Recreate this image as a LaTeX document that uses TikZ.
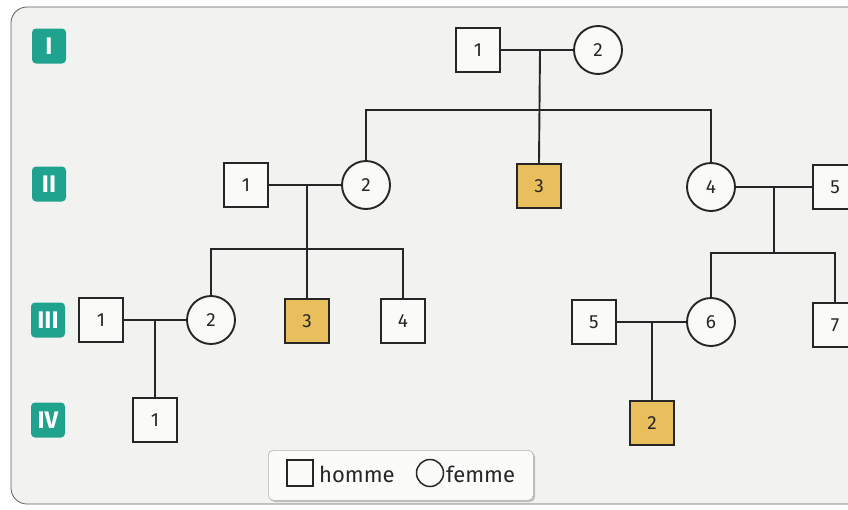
\documentclass[tikz,border=0pt]{standalone}
\usepackage{fontspec}
\setmainfont{Fira Sans}
\definecolor{genteal}{RGB}{32,163,142}
\definecolor{affyellow}{RGB}{233,190,92}
\definecolor{panelbg}{RGB}{242,242,240}
\definecolor{panelline}{RGB}{95,95,95}
\begin{document}
\begin{tikzpicture}[x=1pt,y=-1pt,
  person/.style={draw=black!85, line width=1.9pt, inner sep=0pt,
    font=\fontsize{19}{22}\selectfont, text=black!85},
  male/.style={person, rectangle, minimum size=44pt, fill=white!60!panelbg},
  female/.style={person, circle, minimum size=48pt, fill=white!60!panelbg},
  affected/.style={male, fill=affyellow},
  gen/.style={fill=genteal, rounded corners=4pt, minimum width=34pt,
    minimum height=35pt, inner sep=0pt, text=white,
    font=\bfseries\fontsize{24}{24}\selectfont},
  link/.style={draw=black!85, line width=1.9pt}]
\useasboundingbox (0,0) rectangle (848,509);
\fill[white] (0,0) rectangle (848,509);
% panel
\draw[panelline, line width=0.8pt, fill=panelbg, rounded corners=16pt]
  (880,7) -- (11,7) -- (11,504) -- (880,504);

% generation labels
\node[gen] (gI)   at (49,46)  {I};
\node[gen] (gII)  at (49,184) {II};
\node[gen] (gIII) at (48,320) {III};
\node[gen] (gIV)  at (48,420) {IV};

% generation I
\node[male]   (I1) at (478,50) {1};
\node[female] (I2) at (598,50) {2};

% generation II
\node[male]     (II1) at (246,185) {1};
\node[female]   (II2) at (366,185) {2};
\node[affected] (II3) at (539,186) {3};
\node[female]   (II4) at (711,187) {4};
\node[male]     (II5) at (835,187) {5};

% generation III
\node[male]     (III1) at (101,320) {1};
\node[female]   (III2) at (211,320) {2};
\node[affected] (III3) at (307,321) {3};
\node[male]     (III4) at (403,321) {4};
\node[male]     (III5) at (594,322) {5};
\node[female]   (III6) at (711,322) {6};
\node[male]     (III7) at (835,325) {7};

% generation IV
\node[male]     (IV1) at (155,420) {1};
\node[affected] (IV2) at (652,423) {2};

% couples and their children
\coordinate (m1) at (540,50);
\coordinate (b1) at (540,110);
\draw[link] (I1) -- (I2);
\draw[link] (m1) -- (II3.north);
\draw[link] (II2.north) |- (b1) -| (II4.north);

\coordinate (m2) at (307,185);
\coordinate (b2) at (307,249);
\draw[link] (II1) -- (II2);
\draw[link] (m2) -- (III3.north);
\draw[link] (III2.north) |- (b2) -| (III4.north);

\coordinate (m3) at (774,187);
\coordinate (b3) at (774,253);
\draw[link] (II4) -- (II5);
\draw[link] (m3) -- (b3);
\draw[link] (III6.north) |- (b3) -| (III7.north);

\coordinate (m4) at (155,320);
\draw[link] (III1) -- (III2);
\draw[link] (m4) -- (IV1.north);

\coordinate (m5) at (652,322);
\draw[link] (III5) -- (III6);
\draw[link] (m5) -- (IV2.north);

% legend
\fill[black!25, rounded corners=5pt] (270,452) rectangle (535,502);
\node[draw=black!30, line width=0.6pt, fill=white!70!panelbg, rounded corners=5pt,
  minimum width=265pt, minimum height=50pt, anchor=north west] (leg) at (268,450) {};
\node[draw=black!85, line width=1.5pt, minimum size=26pt, inner sep=0pt] (legM) at (300,473) {};
\node[anchor=west, inner sep=0pt, font=\fontsize{22}{24}\selectfont, text=black!85]
  (legMt) at (319,474) {homme};
\node[draw=black!85, line width=1.5pt, circle, minimum size=27pt, inner sep=0pt] (legF) at (430,473) {};
\node[anchor=west, inner sep=0pt, font=\fontsize{22}{24}\selectfont, text=black!85]
  (legFt) at (446,474) {femme};
\end{tikzpicture}
\end{document}
